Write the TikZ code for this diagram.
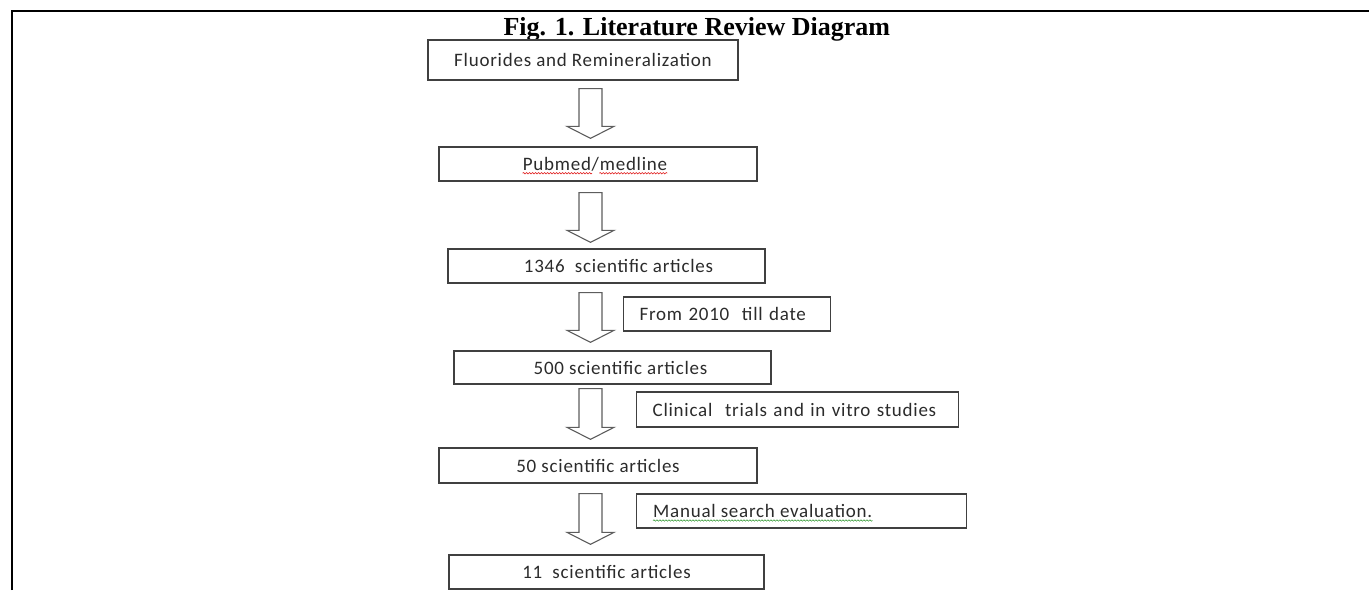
\documentclass[tikz,border=0pt]{standalone}
\usepackage{fontspec}
\setmainfont{Liberation Serif}
\newfontfamily\boxfont[LetterSpace=4]{Carlito}
\usetikzlibrary{calc,decorations.pathmorphing}
\definecolor{boxline}{HTML}{404040}
\definecolor{txt}{HTML}{2B2B2B}
\definecolor{spellred}{HTML}{E02020}
\definecolor{spellgreen}{HTML}{40A040}
\tikzset{
  boxtext/.style={text=txt, font=\boxfont\fontsize{19}{21}\selectfont},
  mainbox/.style={draw=boxline, line width=1.3pt, inner sep=0pt, boxtext},
  sidebox/.style={mainbox, anchor=west, inner xsep=16pt, align=left},
  plaintext/.style={boxtext, inner sep=0pt},
  arrowshape/.style={draw=boxline!85, line width=1.1pt, fill=white, line join=miter},
  frameline/.style={line width=2.5pt, black},
  spell/.style={decorate, decoration={snake, amplitude=0.7pt, segment length=3pt}, line width=0.6pt}
}
\newcommand{\blockarr}[2]{%
  \draw[arrowshape] let \p1=(#1), \p2=(#2) in
    (\x1-11.5pt,\y1) -- (\x1+11.5pt,\y1) -- (\x1+11.5pt,\y2+12pt) -- (\x1+23.5pt,\y2+12pt)
    -- (\x1,\y2) -- (\x1-23.5pt,\y2+12pt) -- (\x1-11.5pt,\y2+12pt) -- cycle;}
\begin{document}
\begin{tikzpicture}[x=1pt,y=-1pt]
\useasboundingbox (0,0) rectangle (1369,590);
\draw[frameline] (12,590) -- (12,11) -- (1369,11);
\node[font=\bfseries\fontsize{26}{30}\selectfont, anchor=base west] (title) at (500,35) {Fig. 1. Literature Review Diagram};
% main column
\node[mainbox, minimum width=310pt, minimum height=40pt] (b1) at (583,60) {Fluorides and Remineralization};
\node[mainbox, minimum width=318pt, minimum height=34pt] (b2) at (598,164) {};
\node[plaintext] (t2) at ($(b2.center)+(-3,0)$) {Pubmed/medline};
\node[mainbox, minimum width=317pt, minimum height=34pt] (b3) at (606.5,266) {\hspace*{24pt}1346\ \ scientific articles};
\node[mainbox, minimum width=317pt, minimum height=33pt] (b4) at (612.5,367.5) {\hspace*{16pt}500 scientific articles};
\node[mainbox, minimum width=318pt, minimum height=35pt] (b5) at (598,465.5) {50 scientific articles};
\node[mainbox, minimum width=315pt, minimum height=34pt] (b6) at (606.5,572) {11\ \ scientific articles};
% side notes
\node[sidebox, text width=175pt, minimum height=34pt] (s1) at (623,314) {From 2010\ \ till date};
\node[sidebox, text width=290pt, minimum height=35pt] (s2) at (636,409.5) {Clinical\ \ trials and in vitro studies};
\node[sidebox, text width=298pt, minimum height=34pt] (s3) at (636,511) {};
\node[plaintext, anchor=west] (t3) at ($(s3.west)+(17,0)$) {Manual search evaluation.};
% block arrows
\coordinate (ax) at (590.5,0);
\coordinate (a1t) at ($(b1.south -| ax)+(0,8)$);
\coordinate (a1b) at ($(b2.north -| ax)+(0,-8)$);
\coordinate (a2t) at ($(b2.south -| ax)+(0,11)$);
\coordinate (a2b) at ($(b3.north -| ax)+(0,-6)$);
\coordinate (a3t) at ($(b3.south -| ax)+(0,9)$);
\coordinate (a3b) at ($(b4.north -| ax)+(0,-8)$);
\coordinate (a4t) at ($(b4.south -| ax)+(0,4)$);
\coordinate (a4b) at ($(b5.north -| ax)+(0,-8)$);
\coordinate (a5t) at ($(b5.south -| ax)+(0,10)$);
\coordinate (a5b) at ($(b6.north -| ax)+(0,-10)$);
\blockarr{a1t}{a1b}
\blockarr{a2t}{a2b}
\blockarr{a3t}{a3b}
\blockarr{a4t}{a4b}
\blockarr{a5t}{a5b}
% spell-check squiggles
\draw[spell, spellred] ($(t2.base west)+(0,3)$) -- ($($(t2.base west)!0.48!(t2.base east)$)+(0,3)$);
\draw[spell, spellred] ($($(t2.base west)!0.53!(t2.base east)$)+(0,3)$) -- ($(t2.base east)+(0,3)$);
\draw[spell, spellgreen] ($(t3.base west)+(0,3)$) -- ($(t3.base east)+(0,3)$);
\end{tikzpicture}
\end{document}
